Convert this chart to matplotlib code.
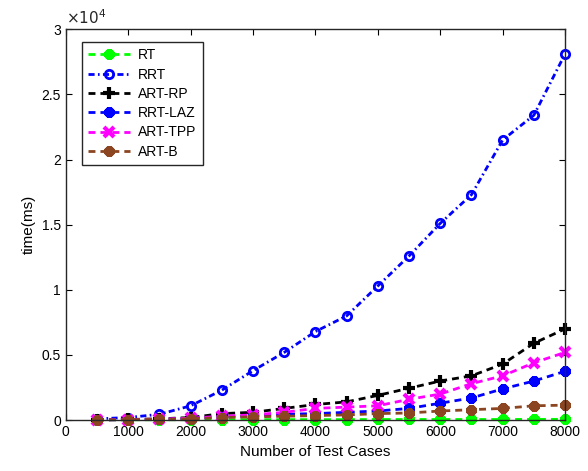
import numpy as np
import matplotlib.pyplot as plt
from matplotlib.ticker import FuncFormatter

plt.rcParams['font.family'] = ['Liberation Sans', 'DejaVu Sans']

# number of test cases
n_cases = [500, 1000, 1500, 2000, 2500, 3000, 3500, 4000,
           4500, 5000, 5500, 6000, 6500, 7000, 7500, 8000]

# time in ms
rt      = [20, 30, 30, 30, 40, 40, 40, 40, 40, 50, 50, 50, 50, 50, 60, 60]
rrt     = [100, 200, 450, 1100, 2300, 3800, 5200, 6800,
           8000, 10300, 12600, 15100, 17300, 21500, 23400, 28100]
art_rp  = [30, 50, 100, 200, 500, 600, 900, 1200,
           1400, 1900, 2450, 3000, 3400, 4300, 5900, 7000]
rrt_laz = [20, 40, 60, 120, 250, 320, 450, 500,
           600, 700, 900, 1300, 1700, 2400, 3000, 3750]
art_tpp = [20, 40, 80, 150, 300, 400, 600, 900,
           1000, 1100, 1600, 2000, 2800, 3400, 4400, 5200]
art_b   = [20, 40, 60, 100, 200, 250, 300, 350,
           400, 500, 550, 700, 800, 900, 1100, 1150]

star = (8, 2, 0)
dash = (2.5, 1.8)
dashdot = (2.2, 1.2, 0.6, 1.2)
series = [
    ('RT', rt, (0, 1, 0), dash, star),
    ('RRT', rrt, (0, 0, 1), dashdot, 'o'),
    ('ART-RP', art_rp, 'k', dash, '+'),
    ('RRT-LAZ', rrt_laz, (0, 0, 1), dash, star),
    ('ART-TPP', art_tpp, (1, 0, 1), dash, 'x'),
    ('ART-B', art_b, (0.55, 0.27, 0.13), dash, star),
]

fig = plt.figure(figsize=(5.88, 4.71), dpi=100)
ax = fig.add_axes([0.112, 0.108, 0.849, 0.830])

x = np.array(n_cases)
for name, vals, col, ds, mk in series:
    y = np.array(vals) / 1e4
    if mk == 'o':
        ax.plot(x, y, color=col, lw=2, dashes=ds, marker=mk, ms=6,
                mfc='none', mew=2, label=name, clip_on=False)
    elif mk == '+':
        ax.plot(x, y, color=col, lw=2, dashes=ds, marker=mk, ms=8, mew=3,
                label=name, clip_on=False)
    elif mk == 'x':
        ax.plot(x, y, color=col, lw=2, dashes=ds, marker=mk, ms=7, mew=3,
                label=name, clip_on=False)
    else:
        ax.plot(x, y, color=col, lw=2, dashes=ds, marker=mk, ms=7.5,
                mew=3.2, label=name, clip_on=False)

ax.set_xlim(0, 8000)
ax.set_ylim(0, 3)
ax.set_xticks(np.arange(0, 8001, 1000))
ax.set_yticks(np.arange(0, 3.01, 0.5))
ax.yaxis.set_major_formatter(FuncFormatter(lambda v, p: '%g' % v))
ax.tick_params(direction='in', top=True, right=True, labelsize=10, length=4)
for s in ax.spines.values():
    s.set_linewidth(1.0)
    s.set_color('#262626')

ax.text(0.0, 1.005, r'$\times10^4$', transform=ax.transAxes, fontsize=11,
        color='#262626', ha='left', va='bottom')
ax.set_xlabel('Number of Test Cases', fontsize=11)
ax.set_ylabel('time(ms)', fontsize=11)

leg = ax.legend(loc='upper left', bbox_to_anchor=(0.032, 0.967), fontsize=10,
                handlelength=3.0, labelspacing=0.38, fancybox=False,
                edgecolor='#262626', framealpha=1, borderpad=0.45,
                borderaxespad=0, handletextpad=0.6)
leg.get_frame().set_linewidth(1.0)

fig.savefig('out.png', dpi=100)
